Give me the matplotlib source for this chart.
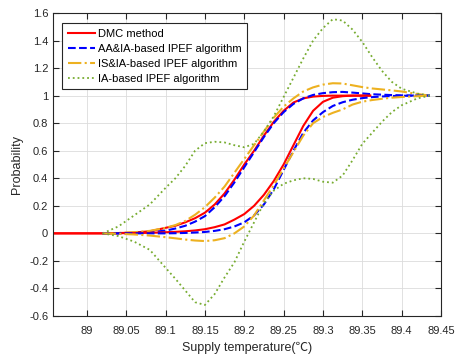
import numpy as np
import matplotlib.pyplot as plt

plt.rcParams['font.family'] = ['Liberation Sans', 'Noto Sans CJK SC', 'DejaVu Sans']

# Temperaturas (eixo x) comuns aos métodos IPEF
t = [89.02, 89.04, 89.06, 89.08, 89.1, 89.1125, 89.125, 89.1375, 89.15,
     89.1625, 89.175, 89.1875, 89.2, 89.2125, 89.225, 89.2375, 89.25,
     89.2625, 89.275, 89.2875, 89.3, 89.3125, 89.325, 89.3375, 89.35,
     89.3625, 89.375, 89.3875, 89.4, 89.42, 89.436]

# Método DMC (tem eixo x próprio)
t_dmc = [88.957, 89.02, 89.04, 89.06, 89.08, 89.1, 89.1125, 89.125, 89.1375,
         89.15, 89.1625, 89.175, 89.1875, 89.2, 89.2125, 89.225, 89.2375,
         89.25, 89.2625, 89.275, 89.2875, 89.3, 89.3125, 89.325, 89.3375,
         89.35, 89.36]
dmc_hi = [0, 0, 0.002, 0.006, 0.015, 0.04, 0.055, 0.08, 0.11,
          0.15, 0.21, 0.29, 0.39, 0.5, 0.6, 0.71, 0.81,
          0.89, 0.95, 0.98, 0.993, 0.998, 1.0, 1.0, 1.0,
          1.0, 1.0]
dmc_lo = [0, 0, 0.001, 0.002, 0.004, 0.008, 0.011, 0.015, 0.021,
          0.03, 0.045, 0.065, 0.1, 0.14, 0.2, 0.28, 0.38,
          0.5, 0.64, 0.78, 0.89, 0.955, 0.985, 0.996, 1.0,
          1.0, 1.0]

aa_hi = [0, 0, 0.002, 0.008, 0.02, 0.035, 0.055, 0.085, 0.125,
         0.19, 0.27, 0.37, 0.48, 0.59, 0.7, 0.8, 0.88,
         0.94, 0.98, 1.005, 1.018, 1.025, 1.027, 1.022, 1.016,
         1.01, 1.007, 1.004, 1.002, 1.0, 1.0]
aa_lo = [0, 0, 0, 0, 0, 0.001, 0.003, 0.006, 0.01,
         0.018, 0.03, 0.05, 0.08, 0.13, 0.21, 0.32, 0.46,
         0.6, 0.73, 0.82, 0.88, 0.925, 0.952, 0.97, 0.982,
         0.989, 0.994, 0.997, 0.999, 1.0, 1.0]

is_hi = [0, 0.003, 0.008, 0.018, 0.04, 0.06, 0.09, 0.135, 0.19,
         0.26, 0.34, 0.44, 0.54, 0.64, 0.74, 0.84, 0.92,
         0.98, 1.03, 1.06, 1.08, 1.09, 1.088, 1.075, 1.062,
         1.052, 1.045, 1.038, 1.03, 1.012, 1.0]
is_lo = [0, -0.003, -0.008, -0.016, -0.028, -0.036, -0.045, -0.052, -0.056,
         -0.05, -0.035, 0.0, 0.05, 0.13, 0.24, 0.35, 0.47,
         0.59, 0.71, 0.8, 0.845, 0.875, 0.9, 0.935, 0.956,
         0.968, 0.977, 0.985, 0.99, 0.996, 1.0]

ia_hi = [0, 0.05, 0.13, 0.21, 0.33, 0.4, 0.49, 0.6, 0.655,
         0.665, 0.66, 0.64, 0.625, 0.65, 0.74, 0.85, 0.99,
         1.13, 1.27, 1.4, 1.49, 1.555, 1.545, 1.48, 1.39,
         1.28, 1.18, 1.1, 1.05, 1.015, 1.0]
ia_lo = [0, -0.02, -0.06, -0.12, -0.25, -0.33, -0.415, -0.5, -0.52,
         -0.44, -0.32, -0.21, -0.06, 0.08, 0.22, 0.31, 0.36,
         0.385, 0.4, 0.395, 0.375, 0.368, 0.42, 0.53, 0.65,
         0.73, 0.81, 0.88, 0.93, 0.98, 1.0]

xticks = [89, 89.05, 89.1, 89.15, 89.2, 89.25, 89.3, 89.35, 89.4, 89.45]
yticks = [-0.6, -0.4, -0.2, 0, 0.2, 0.4, 0.6, 0.8, 1, 1.2, 1.4, 1.6]

vermelho = '#FF0000'
azul = '#0000FF'
laranja = '#EDB120'
verde = '#77AC30'

fig = plt.figure(figsize=(4.57, 3.56), dpi=100)
ax = fig.add_axes([0.116, 0.1124, 0.849, 0.8511])

ax.plot(t_dmc, dmc_hi, color=vermelho, lw=1.5, label='DMC method')
ax.plot(t, aa_hi, '--', color=azul, lw=1.5, label='AA&IA-based IPEF algorithm')
ax.plot(t, is_hi, '-.', color=laranja, lw=1.5, label='IS&IA-based IPEF algorithm')
ax.plot(t, ia_hi, ':', color=verde, lw=1.3, label='IA-based IPEF algorithm')
ax.plot(t_dmc, dmc_lo, color=vermelho, lw=1.5)
ax.plot(t, aa_lo, '--', color=azul, lw=1.5)
ax.plot(t, is_lo, '-.', color=laranja, lw=1.5)
ax.plot(t, ia_lo, ':', color=verde, lw=1.3)

ax.set_xlim(88.957, 89.45)
ax.set_ylim(-0.6, 1.6)
ax.set_xticks(xticks)
ax.set_xticklabels(['{:g}'.format(v) for v in xticks])
ax.set_yticks(yticks)
ax.set_yticklabels(['{:g}'.format(v) for v in yticks])
ax.tick_params(direction='in', top=True, right=True, length=4, width=0.8,
               labelsize=8, colors='#262626')
ax.tick_params(axis='x', pad=7)
ax.grid(True, color='#dcdcdc', lw=0.6)
for s in ax.spines.values():
    s.set_color('#262626')
    s.set_linewidth(0.8)

ax.set_xlabel('Supply temperature(℃)', fontsize=9, color='#262626', labelpad=4)
ax.set_ylabel('Probability', fontsize=9, color='#262626', labelpad=4)

leg = ax.legend(loc='upper left', bbox_to_anchor=(0.024, 0.966),
                borderaxespad=0, fontsize=8, frameon=True, fancybox=False,
                edgecolor='#262626', framealpha=1, handlelength=2.4,
                borderpad=0.5, labelspacing=0.45, handletextpad=0.3)
leg.get_frame().set_linewidth(0.8)

plt.savefig('out.png', dpi=100)
